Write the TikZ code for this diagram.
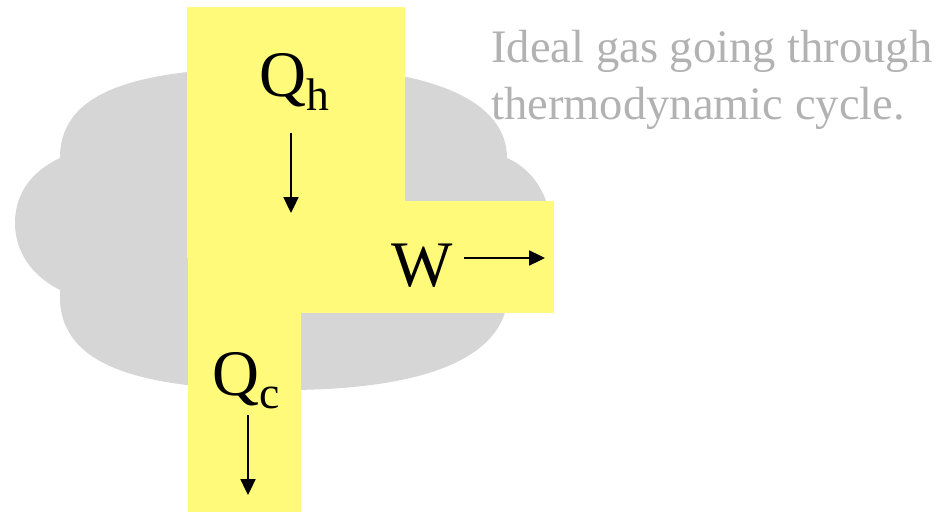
\documentclass[tikz,border=0pt]{standalone}
\usepackage{fontspec}
\setmainfont{Liberation Serif}
\usepackage{tikz}
\usetikzlibrary{arrows.meta, positioning}
\definecolor{bandyellow}{RGB}{255,250,122}
\definecolor{gasgray}{RGB}{214,214,214}
\definecolor{notegray}{RGB}{178,178,178}
\tikzset{
  band/.style={fill=bandyellow, draw=none},
  flow/.style={-{Triangle[length=9pt,width=8.5pt]}, line width=1.1pt},
  biglabel/.style={inner sep=0pt, anchor=base west, font=\fontsize{37}{40}\selectfont},
}
\newcommand{\lowsub}[1]{\raisebox{-7.5pt}{\fontsize{26}{26}\selectfont #1}}

\begin{document}
\begin{tikzpicture}[x=0.02cm, y=-0.02cm]
\useasboundingbox (0,0) rectangle (950,513);

% Gas cloud
\fill[gasgray] (60,158) .. controls (60,85) and (150,67) .. (295,67)
  .. controls (430,67) and (507,100) .. (507,158)
  .. controls (535,170) and (552,200) .. (552,235)
  .. controls (552,265) and (535,285) .. (508,295)
  .. controls (505,360) and (420,390) .. (285,390)
  .. controls (150,390) and (60,370) .. (60,297)
  -- (60,290)
  .. controls (30,275) and (15,250) .. (15,223)
  .. controls (15,195) and (30,172) .. (60,158) -- cycle;

% Heat flowing through the engine
\fill[band] (187,7) rectangle (405,258);
\fill[band] (188,250) rectangle (301,512);
\fill[band] (300,201) rectangle (554,313);

% Labels
\node[biglabel] (qh) at (259,97) {Q\lowsub{h}};
\node[biglabel] (w) at (391,287) {W};
\node[biglabel] (qc) at (212,395) {Q\lowsub{c}};

% Arrows
\coordinate (qhstart) at (291,133);
\coordinate (qhend) at (291,213);
\coordinate (wstart) at (464,258);
\coordinate (wend) at (545,258);
\coordinate (qcstart) at (248,415);
\coordinate (qcend) at (248,495);
\draw[flow] (qhstart) -- (qhend);
\draw[flow] (wstart) -- (wend);
\draw[flow] (qcstart) -- (qcend);

% Note
\node[anchor=north west, inner sep=0pt, align=left, text=notegray,
  font=\fontsize{26.5}{32.5}\selectfont] (note) at (491,30)
  {Ideal gas going through\\thermodynamic cycle.};
\end{tikzpicture}
\end{document}
